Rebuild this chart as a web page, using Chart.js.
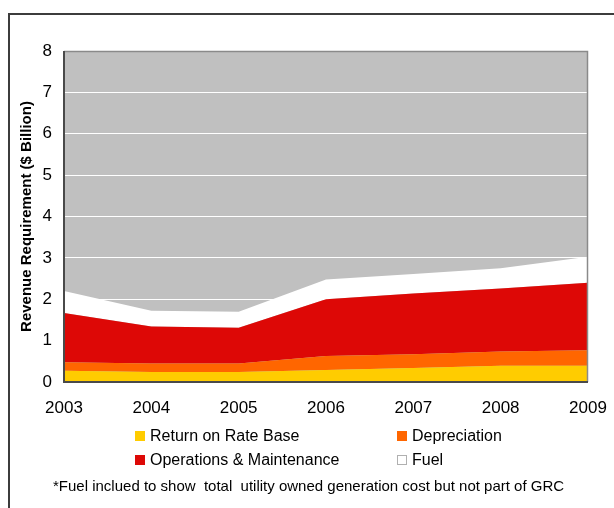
<!DOCTYPE html>
<html>
<head>
<meta charset="utf-8">
<script src="https://cdn.jsdelivr.net/npm/chart.js@4/dist/chart.umd.min.js"></script>
<style>
  html, body { margin: 0; padding: 0; background: #fff; }
  body { width: 614px; height: 508px; position: relative; overflow: hidden; font-family: "Liberation Sans", Arial, sans-serif; }
  #frame { position: absolute; left: 8px; top: 13px; width: 640px; height: 540px; border: 2px solid #3c3c3c; box-sizing: border-box; }
  #wrap { position: absolute; left: 0; top: 0; width: 614px; height: 508px; }
  .leg { position: absolute; font-size: 16px; color: #000; white-space: nowrap; line-height: 16px; }
  .leg i { position: absolute; left: 0; top: 3px; width: 10px; height: 10px; box-sizing: border-box; }
  .leg span { position: absolute; left: 15px; top: 0; }
  #note { position: absolute; left: 53px; top: 477px; font-size: 15px; white-space: pre; color: #000; }
</style>
</head>
<body>
<div id="frame"></div>
<div id="wrap"><canvas id="c" width="614" height="508"></canvas></div>
<div id="legend"></div>
<div id="note">*Fuel inclued to show  total  utility owned generation cost but not part of GRC</div>
<script>
const years = ['2003', '2004', '2005', '2006', '2007', '2008', '2009'];
const returnOnRateBase = [0.27, 0.24, 0.24, 0.29, 0.34, 0.39, 0.39];
const depreciation = [0.21, 0.21, 0.21, 0.34, 0.33, 0.35, 0.38];
const operationsMaintenance = [1.19, 0.89, 0.86, 1.37, 1.47, 1.52, 1.63];
const fuel = [0.53, 0.38, 0.39, 0.48, 0.47, 0.49, 0.63];
const seriesNames = ['Return on Rate Base', 'Depreciation', 'Operations & Maintenance', 'Fuel'];
const seriesColors = ['#FFCC00', '#FF6600', '#DD0806', '#FFFFFF'];
const yTicks = [0, 1, 2, 3, 4, 5, 6, 7, 8];

const seriesData = [returnOnRateBase, depreciation, operationsMaintenance, fuel];

const bgPlugin = {
  id: 'bg',
  beforeDraw(chart) {
    const a = chart.chartArea, ctx = chart.ctx;
    ctx.save();
    ctx.fillStyle = '#C0C0C0';
    ctx.fillRect(a.left, a.top, a.right - a.left, a.bottom - a.top);
    ctx.restore();
  },
  afterDraw(chart) {
    const a = chart.chartArea, ctx = chart.ctx;
    ctx.save();
    ctx.strokeStyle = '#8a8a8a';
    ctx.lineWidth = 1.5;
    ctx.beginPath();
    ctx.moveTo(a.left, a.top + 0.5);
    ctx.lineTo(a.right - 0.5, a.top + 0.5);
    ctx.lineTo(a.right - 0.5, a.bottom);
    ctx.stroke();
    ctx.strokeStyle = '#4a4a4a';
    ctx.lineWidth = 2;
    ctx.beginPath();
    ctx.moveTo(a.left, a.top);
    ctx.lineTo(a.left, a.bottom);
    ctx.lineTo(a.right, a.bottom);
    ctx.stroke();
    ctx.restore();
  }
};

new Chart(document.getElementById('c'), {
  type: 'line',
  data: {
    labels: years,
    datasets: seriesData.map((d, i) => ({
      label: seriesNames[i],
      data: d,
      backgroundColor: seriesColors[i],
      borderColor: seriesColors[i],
      borderWidth: 0,
      pointRadius: 0,
      tension: 0,
      fill: i === 0 ? 'origin' : '-1'
    }))
  },
  options: {
    responsive: false,
    animation: false,
    layout: { padding: { top: 51, right: 26, bottom: 0, left: 0 } },
    plugins: { legend: { display: false }, tooltip: { enabled: false } },
    scales: {
      x: {
        offset: false,
        grid: { display: false, drawTicks: false },
        border: { display: false },
        ticks: { color: '#000', font: { family: 'Liberation Sans', size: 17 }, padding: 16, maxRotation: 0 },
        afterFit(s) { s.height = 126; s.paddingLeft = 0; s.paddingRight = 0; }
      },
      y: {
        stacked: true,
        min: 0, max: 8,
        afterBuildTicks(s) { s.ticks = yTicks.map(v => ({ value: v })); },
        grid: { color: '#FFFFFF', lineWidth: 1, drawTicks: false },
        border: { display: false },
        ticks: { color: '#000', font: { family: 'Liberation Sans', size: 17 }, padding: 12 },
        title: { display: true, text: 'Revenue Requirement ($ Billion)', color: '#000', font: { family: 'Liberation Sans', size: 15, weight: 'bold' }, padding: { top: 18, bottom: 0 } },
        afterFit(s) { s.width = 64; s.paddingTop = 0; s.paddingBottom = 0; }
      }
    }
  },
  plugins: [bgPlugin]
});

const legendPos = [[135, 428], [397, 428], [135, 452], [397, 452]];
const legend = document.getElementById('legend');
seriesNames.forEach((n, i) => {
  const d = document.createElement('div');
  d.className = 'leg';
  d.style.left = legendPos[i][0] + 'px';
  d.style.top = legendPos[i][1] + 'px';
  const box = document.createElement('i');
  box.style.background = seriesColors[i];
  if (seriesColors[i] === '#FFFFFF') box.style.border = '1px solid #b0b0b0';
  const t = document.createElement('span');
  t.textContent = n;
  d.appendChild(box); d.appendChild(t);
  legend.appendChild(d);
});
</script>
</body>
</html>
